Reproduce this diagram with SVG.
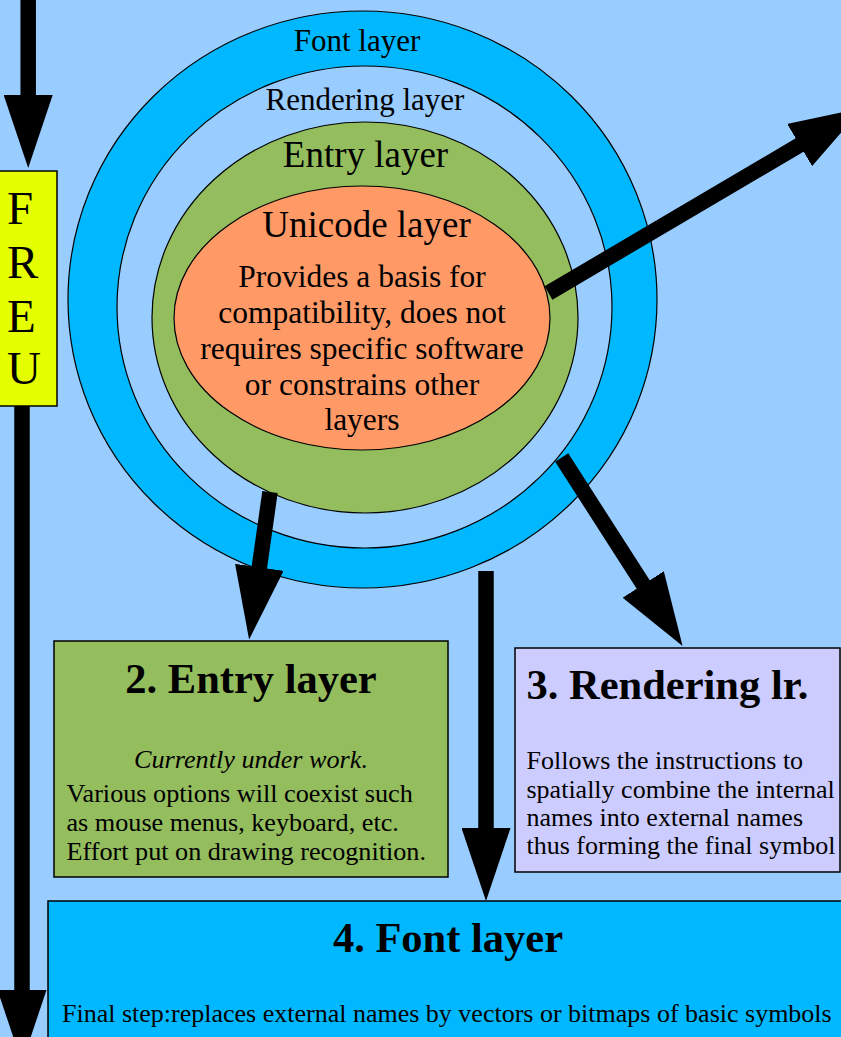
<svg xmlns="http://www.w3.org/2000/svg" width="841" height="1037" viewBox="0 0 841 1037">
<style>
text{font-family:"Liberation Serif","Times New Roman",serif;fill:#000}
.ring{stroke:#000;stroke-width:1.2}
.box{stroke:#000;stroke-width:1.5}
.c31{font-size:31px;text-anchor:middle}
.c37{font-size:37px;text-anchor:middle}
.c29{font-size:31.5px;text-anchor:middle}
.h{font-size:42.5px;font-weight:bold}
.b{font-size:26px}
.e{font-size:26.2px}
.arrow{fill:none;stroke:#000;stroke-width:15.5;marker-end:url(#head)}
</style>
<defs>
<marker id="head" viewBox="0 0 73 49" refX="1" refY="24.5" markerWidth="73" markerHeight="49" markerUnits="userSpaceOnUse" orient="auto">
<path d="M0,0 L73,24.5 L0,49 Z" fill="#000"/>
</marker>
</defs>
<rect width="841" height="1037" fill="#99ccff"/>
<g id="font-ring">
<ellipse class="ring" cx="362.5" cy="299.5" rx="294.5" ry="288.5" fill="#00b8ff"/>
<text class="c31" x="357" y="51">Font layer</text>
</g>
<g id="rendering-ring">
<ellipse class="ring" cx="364.5" cy="307" rx="247.5" ry="241" fill="#99ccff"/>
<text class="c31" x="365" y="110">Rendering layer</text>
</g>
<g id="entry-ring">
<ellipse class="ring" cx="365" cy="317.5" rx="213" ry="195.5" fill="#94bd5e"/>
<text class="c37" x="365.5" y="167">Entry layer</text>
</g>
<g id="unicode-ring">
<ellipse class="ring" cx="362" cy="318" rx="188" ry="132" fill="#ff9966"/>
<text class="c37" x="366.5" y="237">Unicode layer</text>
<text class="c29" x="362" y="287">Provides a basis for</text>
<text class="c29" x="362" y="323">compatibility, does not</text>
<text class="c29" x="362" y="358.5">requires specific software</text>
<text class="c29" x="362" y="394.5">or constrains other</text>
<text class="c29" x="362" y="430">layers</text>
</g>
<g id="freu">
<rect class="box" x="-1" y="171" width="58" height="235" fill="#e6ff00"/>
<text style="font-size:47px" x="7" y="224">F</text>
<text style="font-size:47px" x="7" y="277.5">R</text>
<text style="font-size:47px" x="7" y="331.5">E</text>
<text style="font-size:47px" x="7" y="384">U</text>
</g>
<g id="entry-box">
<rect class="box" x="54" y="641" width="394" height="236" fill="#94bd5e"/>
<text class="h" x="251" y="693" text-anchor="middle">2. Entry layer</text>
<text class="e" x="251" y="768" text-anchor="middle" font-style="italic">Currently under work.</text>
<text class="e" x="66.5" y="802">Various options will coexist such</text>
<text class="e" x="66.5" y="831">as mouse menus, keyboard, etc.</text>
<text class="e" x="66.5" y="860">Effort put on drawing recognition.</text>
</g>
<g id="rendering-box">
<rect class="box" x="515" y="648" width="325" height="224" fill="#ccccff"/>
<text class="h" x="526.5" y="698.5">3. Rendering lr.</text>
<text class="b" x="526.5" y="768.5">Follows the instructions to</text>
<text class="b" x="526.5" y="797.5">spatially combine the internal</text>
<text class="b" x="526.5" y="826">names into external names</text>
<text class="b" x="526.5" y="854">thus forming the final symbol</text>
</g>
<g id="font-box">
<rect class="box" x="48" y="901" width="800" height="150" fill="#00b8ff"/>
<text class="h" x="448" y="952" text-anchor="middle">4. Font layer</text>
<text class="b" x="62" y="1022">Final step:replaces external names by vectors or bitmaps of basic symbols</text>
</g>
<g id="connectors">
<path class="arrow" d="M28.2,0 L28.2,96"/>
<path class="arrow" d="M22,406 L22,991"/>
<path class="arrow" d="M548.5,293 L800.5,144.5"/>
<path class="arrow" d="M270,492 L259.2,568.3"/>
<path class="arrow" d="M561.7,457.5 L643.7,585.3"/>
<path class="arrow" d="M486,571 L486,829"/>
</g>
</svg>
